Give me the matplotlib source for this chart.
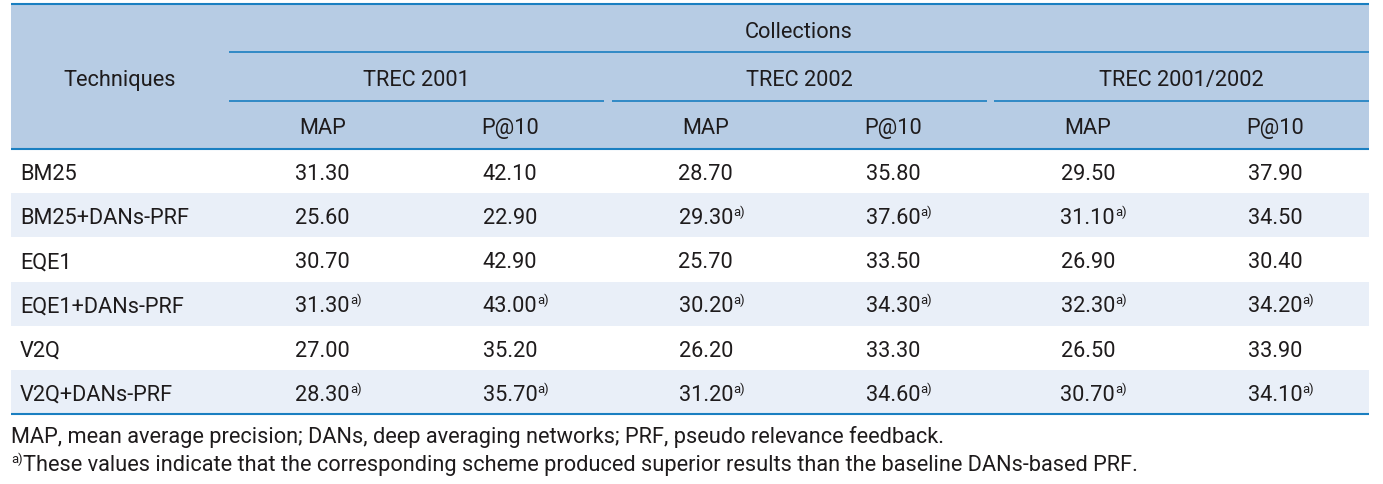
import matplotlib
matplotlib.use("Agg")
import matplotlib.pyplot as plt
from matplotlib.patches import Rectangle

# ---- data ----
techniques = ["BM25", "BM25+DANs-PRF", "EQE1", "EQE1+DANs-PRF", "V2Q", "V2Q+DANs-PRF"]
collections = ["TREC 2001", "TREC 2002", "TREC 2001/2002"]
metrics = ["MAP", "P@10"]
trec2001_map = ["31.30", "25.60", "30.70", "31.30", "27.00", "28.30"]
trec2001_p10 = ["42.10", "22.90", "42.90", "43.00", "35.20", "35.70"]
trec2002_map = ["28.70", "29.30", "25.70", "30.20", "26.20", "31.20"]
trec2002_p10 = ["35.80", "37.60", "33.50", "34.30", "33.30", "34.60"]
trec0102_map = ["29.50", "31.10", "26.90", "32.30", "26.50", "30.70"]
trec0102_p10 = ["37.90", "34.50", "30.40", "34.20", "33.90", "34.10"]
# superscript a) flags
sup_2001_map = [0, 0, 0, 1, 0, 1]
sup_2001_p10 = [0, 0, 0, 1, 0, 1]
sup_2002_map = [0, 1, 0, 1, 0, 1]
sup_2002_p10 = [0, 1, 0, 1, 0, 1]
sup_0102_map = [0, 1, 0, 1, 0, 1]
sup_0102_p10 = [0, 0, 0, 1, 0, 1]
footnote1 = "MAP, mean average precision; DANs, deep averaging networks; PRF, pseudo relevance feedback."
footnote2 = "These values indicate that the corresponding scheme produced superior results than the baseline DANs-based PRF."

columns = [trec2001_map, trec2001_p10, trec2002_map, trec2002_p10, trec0102_map, trec0102_p10]
sups = [sup_2001_map, sup_2001_p10, sup_2002_map, sup_2002_p10, sup_0102_map, sup_0102_p10]

# ---- layout ----
W, H = 1383, 484
fig = plt.figure(figsize=(W / 100, H / 100), dpi=100)
ax = fig.add_axes([0, 0, 1, 1])
ax.set_xlim(0, W)
ax.set_ylim(H, 0)
ax.axis("off")
renderer = fig.canvas.get_renderer()

FONT = "Roboto"
FS = 15.65
SFS = FS * 0.6
TXT = "#1e1b1c"
HDR_BG = "#b7cce4"
ALT_BG = "#e9eff8"
LINE = "#1a7fc1"

x0, x1 = 11, 1369
y_top, y_hdr_bot, y_bot = 4, 149, 414
row_h = (y_bot - y_hdr_bot) / 6
group_spans = [(229, 603.5), (612, 987), (994, 1369)]

# header background
ax.add_patch(Rectangle((x0, y_top), x1 - x0, y_hdr_bot - y_top, color=HDR_BG, lw=0, zorder=0))
# shaded rows
for i in range(len(techniques)):
    if i % 2 == 1:
        y = y_hdr_bot + i * row_h
        ax.add_patch(Rectangle((x0, y), x1 - x0, row_h, color=ALT_BG, lw=0, zorder=0))

# lines
ax.plot([x0, x1], [y_top, y_top], color=LINE, lw=1.5, solid_capstyle="butt")
ax.plot([229, x1], [52, 52], color=LINE, lw=1.2, solid_capstyle="butt")
for a, b in group_spans:
    ax.plot([a, b], [101, 101], color=LINE, lw=1.2, solid_capstyle="butt")
ax.plot([x0, x1], [y_hdr_bot, y_hdr_bot], color=LINE, lw=1.5, solid_capstyle="butt")
ax.plot([x0, x1], [y_bot, y_bot], color=LINE, lw=1.5, solid_capstyle="butt")

kw = dict(family=FONT, fontsize=FS, color=TXT, va="baseline")
skw = dict(family=FONT, fontsize=SFS, color=TXT, va="baseline", ha="left")


def right_edge(t):
    bb = t.get_window_extent(renderer=renderer)
    return ax.transData.inverted().transform((bb.x1, bb.y0))[0]


# header text
ax.text(120, 86, "Techniques", ha="center", **kw)
ax.text((229 + x1) / 2, 38, "Collections", ha="center", **kw)
col_centers = []
for (a, b), name in zip(group_spans, collections):
    ax.text((a + b) / 2, 86, name, ha="center", **kw)
    w = b - a
    for k, m in enumerate(metrics):
        cx = a + w * (0.25 + 0.5 * k)
        col_centers.append(cx)
        ax.text(cx, 134, m, ha="center", **kw)

# body
for i, tech in enumerate(techniques):
    yb = 180 + i * row_h
    ax.text(20, yb, tech, ha="left", **kw)
    for cx, col, sp in zip(col_centers, columns, sups):
        t = ax.text(cx, yb, col[i], ha="center", **kw)
        if sp[i]:
            ax.text(right_edge(t), yb - 8, "a)", **skw)

# footnotes
ax.text(11, 443, footnote1, ha="left", **kw)
s = ax.text(11, 463, "a)", **skw)
ax.text(right_edge(s) + 0.3, 471, footnote2, ha="left", **kw)

fig.savefig("out.png", dpi=100)
